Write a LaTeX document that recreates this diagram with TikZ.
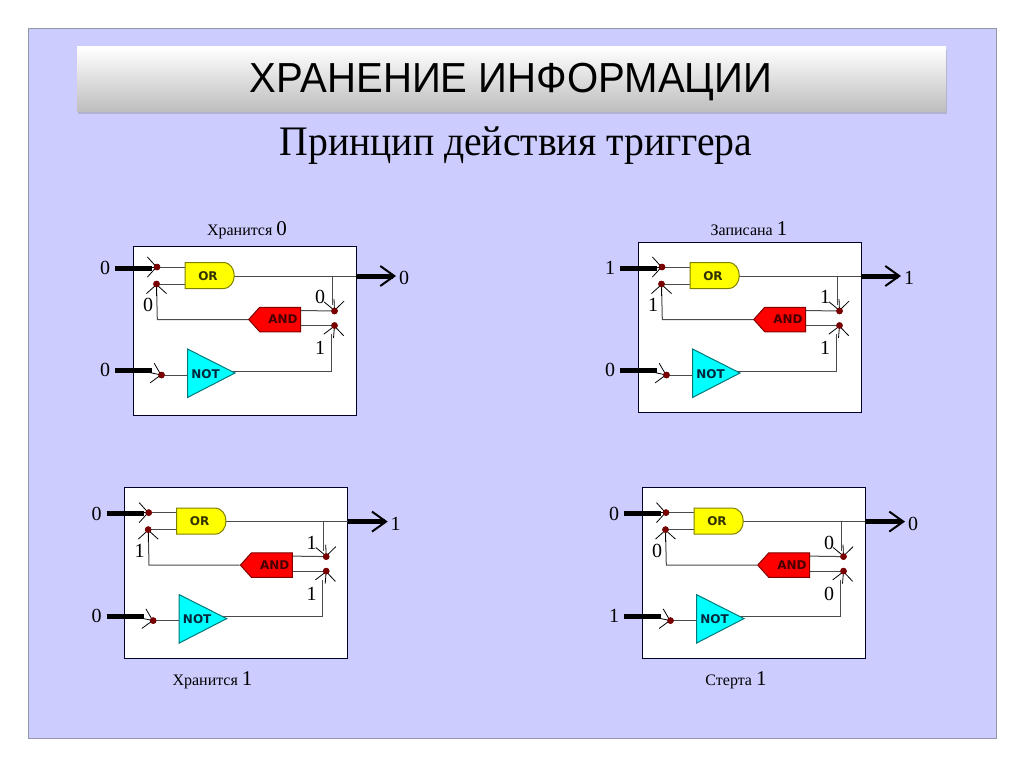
\documentclass[tikz,border=0pt]{standalone}
\usepackage{fontspec}
\setmainfont{Liberation Serif}
\newfontfamily\titlefont[FakeStretch=0.955]{Liberation Sans}
\newfontfamily\subfont[FakeStretch=0.945]{Liberation Serif}
\newfontfamily\gatefont[BoldFont={DejaVu Sans Bold}]{DejaVu Sans}
\usetikzlibrary{arrows.meta,shapes.symbols,shadows}

\definecolor{lav}{RGB}{204,204,255}
\definecolor{lavborder}{RGB}{150,150,170}
\definecolor{barbot}{RGB}{190,190,190}
\definecolor{wiregray}{RGB}{75,75,75}
\definecolor{dotred}{RGB}{120,0,0}
\definecolor{orfill}{RGB}{255,255,0}
\definecolor{ordraw}{RGB}{128,128,0}
\definecolor{ortext}{RGB}{50,50,0}
\definecolor{andfill}{RGB}{255,0,0}
\definecolor{anddraw}{RGB}{128,0,0}
\definecolor{andtext}{RGB}{70,0,0}
\definecolor{notfill}{RGB}{0,255,255}
\definecolor{notdraw}{RGB}{0,120,120}
\definecolor{nottext}{RGB}{0,40,60}
\definecolor{boxdraw}{RGB}{0,0,40}

\tikzset{
  boxst/.style={draw=boxdraw, fill=white, line width=1pt},
  wire/.style={draw=wiregray, line width=1pt},
  chev/.style={draw=black, line width=0.8pt, -{Straight Barb[length=9pt,width=20pt]}},
  thickin/.style={draw=black, line width=5pt},
  outarrow/.style={draw=black, line width=5pt, -{Straight Barb[length=14pt,width=20pt,line width=2pt]}},
  dot/.style={circle, fill=dotred, inner sep=0pt, minimum size=6.5pt},
  val/.style={font=\fontsize{20}{20}\selectfont, inner sep=0pt},
  gtxt/.style={font=\gatefont\bfseries\fontsize{12}{12}\selectfont, inner sep=0pt},
  orst/.style={draw=ordraw, fill=orfill, line width=1pt},
  notst/.style={draw=notdraw, fill=notfill, line width=1pt},
  andst/.style={signal, signal to=west, signal pointer angle=96, draw=anddraw, fill=andfill,
    line width=1pt, minimum width=52pt, minimum height=24.5pt, inner sep=0pt},
  caption/.style={inner sep=0pt, anchor=base},
}

% #1 dx, #2 dy, #3 box top, #4 box bottom, #5 in1, #6 stored q, #7 not out, #8 in2, #9 prefix
\newcommand\trigpanel[9]{%
\begin{scope}[shift={(#1,#2)}]
  \draw[boxst] (133,#3) rectangle (356,#4);
  % pins
  \coordinate (#9orA) at (185,267);
  \coordinate (#9orB) at (185,284);
  \coordinate (#9orQ) at (230,276);
  \coordinate (#9br) at (332,276);
  \coordinate (#9brE) at (332,305);
  \coordinate (#9edge) at (356,276);
  \coordinate (#9outE) at (396,276);
  \coordinate (#9andA) at (300,310.5);
  \coordinate (#9andB) at (300,325.5);
  \coordinate (#9fb) at (157.3,319.5);
  \coordinate (#9notA) at (190,375);
  \coordinate (#9notQ) at (230,371);
  \coordinate (#9nc) at (331,371);
  \coordinate (#9ncE) at (331,334);
  \coordinate (#9in1s) at (115,268);
  \coordinate (#9in1t) at (152,268);
  \coordinate (#9in2s) at (115,370.5);
  \coordinate (#9in2t) at (152,370.5);
  \coordinate (#9c1) at (144,267);
  \coordinate (#9c2) at (156.5,296);
  \coordinate (#9c3) at (334,299);
  \coordinate (#9c4) at (333.5,338);
  \coordinate (#9c5) at (147,372);
  % dots
  \node[dot] (#9d1) at (157,267) {};
  \node[dot] (#9d2) at (156.5,284) {};
  \node[dot] (#9d3) at (334.5,311) {};
  \node[dot] (#9d4) at (334.5,325.5) {};
  \node[dot] (#9d5) at (161.5,375) {};
  % wires
  \draw[wire] (#9d1.center) -- (#9orA);
  \draw[wire] (#9d2.center) -- (#9orB);
  \draw[wire] (#9orQ) -- (#9edge);
  \draw[wire] (#9br) -- (#9brE);
  \draw[wire] (#9andA) -- (#9d3.center);
  \draw[wire] (#9andB) -- (#9d4.center);
  \draw[wire] (#9d5.center) -- (#9notA);
  \draw[wire] (#9notQ) -- (#9nc) -- (#9ncE);
  % gates
  \draw[orst] (185,262.5) -- (223,262.5) .. controls (238,262.5) and (238,288.5) .. (223,288.5) -- (185,288.5) -- cycle;
  \node[gtxt, text=ortext] (#9or) at (208,276) {OR};
  \node[andst] (#9and) at (280.2,319.5) {};
  \node[gtxt, text=andtext] (#9andt) at (283,319.5) {AND};
  \draw[notst] (187.5,349) -- (235,373) -- (187.5,397.5) -- cycle;
  \node[gtxt, text=nottext] (#9not) at (205.5,374) {NOT};
  \draw[wire] (#9and.west) -- (#9fb) -- (#9d2.center);
  % thick inputs / output
  \draw[thickin] (#9in1s) -- (#9in1t);
  \draw[thickin] (#9in2s) -- (#9in2t);
  \draw[outarrow] (#9edge) -- (#9outE);
  % chevrons
  \draw[chev] (#9c1) -- (#9d1.center);
  \draw[chev] (#9c2) -- (#9d2.center);
  \draw[chev] (#9c3) -- (#9d3.center);
  \draw[chev] (#9c4) -- (#9d4.center);
  \draw[chev] (#9c5) -- (#9d5.center);
  \node[dot] at (#9d1) {};
  \node[dot] at (#9d2) {};
  \node[dot] at (#9d3) {};
  \node[dot] at (#9d4) {};
  \node[dot] at (#9d5) {};
  % labels
  \node[val] (#9lin1) at (105,268) {#5};
  \node[val] (#9lfb) at (148,305) {#6};
  \node[val] (#9lq) at (320,297) {#6};
  \node[val] (#9lnot) at (320,348) {#7};
  \node[val] (#9lin2) at (105,370) {#8};
  \node[val] (#9lout) at (404,278) {#6};
\end{scope}}

\begin{document}
\begin{tikzpicture}[x=1pt,y=-1pt]
  \useasboundingbox (0,0) rectangle (1024,768);
  \fill[white] (0,0) rectangle (1024,768);
  \draw[draw=lavborder, fill=lav, line width=1pt] (28,29) rectangle (996,738);
  \path[drop shadow={shadow xshift=1pt, shadow yshift=-3pt, opacity=0.35}, top color=white, bottom color=barbot] (77,47) rectangle (946,111);
  \node[inner sep=0pt, anchor=base, font=\titlefont\fontsize{42}{42}\selectfont] (title) at (511,92.7) {ХРАНЕНИЕ ИНФОРМАЦИИ};
  \node[inner sep=0pt, anchor=base, font=\subfont\fontsize{42}{42}\selectfont] (subtitle) at (516,155) {Принцип действия триггера};

  \trigpanel{0}{0}{246.5}{415.5}{0}{0}{1}{0}{a}
  \trigpanel{505}{0}{242}{412}{1}{1}{1}{0}{b}
  \trigpanel{-8.3}{245.6}{242}{412.5}{0}{1}{1}{0}{c}
  \trigpanel{509}{245.6}{242}{412.5}{0}{0}{0}{1}{d}

  \node[caption] (capa) at (247,235) {\fontsize{16}{16}\selectfont Хранится \fontsize{21}{21}\selectfont 0};
  \node[caption] (capb) at (749,235) {\fontsize{16}{16}\selectfont Записана \fontsize{21}{21}\selectfont 1};
  \node[caption] (capc) at (212.5,685) {\fontsize{16}{16}\selectfont Хранится \fontsize{21}{21}\selectfont 1};
  \node[caption] (capd) at (736,685) {\fontsize{16}{16}\selectfont Стерта \fontsize{21}{21}\selectfont 1};
\end{tikzpicture}
\end{document}
